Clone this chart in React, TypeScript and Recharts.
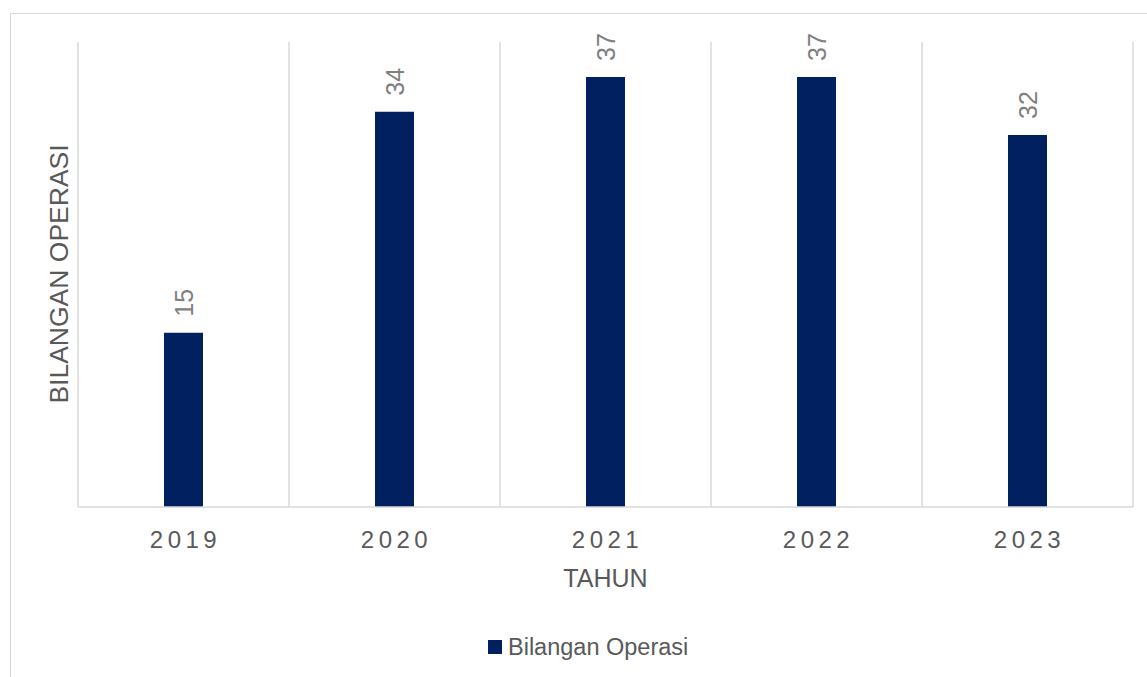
import React from 'react';
import { BarChart, Bar, XAxis, YAxis, CartesianGrid, LabelList, Label } from 'recharts';

const years = ['2019', '2020', '2021', '2022', '2023'];
const operasi = [15, 34, 37, 37, 32];
const yDomain = [0, 40];
const seriesName = 'Bilangan Operasi';
const xTitle = 'TAHUN';
const yTitle = 'BILANGAN OPERASI';

const data = years.map((y, i) => ({ year: y, value: operasi[i] }));

const FONT = '"Liberation Sans", Arial, sans-serif';
const NAVY = '#002060';
const GRID = '#d9d9d9';
const TEXT = '#595959';
const LABEL = '#808080';

const Tick = (props: any) => {
  const { x, y, payload } = props;
  return (
    <text
      x={x + 2}
      y={y + 24}
      textAnchor="middle"
      dominantBaseline="central"
      fontFamily={FONT}
      fontSize={24}
      letterSpacing={4.5}
      fill={TEXT}
    >
      {payload.value}
    </text>
  );
};

const ValueLabel = (props: any) => {
  const { x, y, width, value } = props;
  const cx = x + width / 2;
  const y0 = y - 16;
  return (
    <text
      x={cx}
      y={y0}
      transform={`rotate(-90, ${cx}, ${y0})`}
      textAnchor="start"
      dominantBaseline="central"
      fontFamily={FONT}
      fontSize={25}
      fill={LABEL}
    >
      {value}
    </text>
  );
};

export default function App() {
  return (
    <div
      style={{
        position: 'absolute',
        left: 0,
        top: 0,
        width: 1147,
        height: 677,
        overflow: 'hidden',
        background: '#fff',
      }}
    >
      <div
        style={{
          position: 'absolute',
          left: 10,
          top: 13,
          width: 1160,
          height: 700,
          border: `1px solid ${GRID}`,
          boxSizing: 'border-box',
        }}
      />
      <div style={{ position: 'absolute', left: 0, top: 0 }}>
        <BarChart
          width={1147}
          height={677}
          data={data}
          margin={{ top: 42, right: 14, bottom: 140, left: 78 }}
        >
          <CartesianGrid
            horizontal={false}
            stroke={GRID}
            strokeWidth={1.5}
            verticalCoordinatesGenerator={({ offset }: any) =>
              [0, 1, 2, 3, 4, 5].map((i) => offset.left + (i * offset.width) / 5)
            }
          />
          <XAxis
            dataKey="year"
            height={30}
            axisLine={{ stroke: GRID, strokeWidth: 1.5 }}
            tickLine={false}
            tick={<Tick />}
            interval={0}
          >
            <Label
              content={(p: any) => {
                const vb = p.viewBox;
                return (
                  <text
                    x={vb.x + vb.width / 2}
                    y={vb.y + 71}
                    textAnchor="middle"
                    dominantBaseline="central"
                    fontFamily={FONT}
                    fontSize={25}
                    fill={TEXT}
                  >
                    {xTitle}
                  </text>
                );
              }}
            />
          </XAxis>
          <YAxis domain={yDomain} hide />
          <Bar dataKey="value" name={seriesName} fill={NAVY} barSize={39} isAnimationActive={false}>
            <LabelList dataKey="value" content={<ValueLabel />} />
          </Bar>
        </BarChart>
      </div>
      <div
        style={{
          position: 'absolute',
          left: 59,
          top: 274,
          transform: 'translate(-50%, -50%) rotate(-90deg)',
          fontFamily: FONT,
          fontSize: 26.5,
          lineHeight: '30px',
          color: TEXT,
          whiteSpace: 'nowrap',
        }}
      >
        {yTitle}
      </div>
      <div
        style={{
          position: 'absolute',
          left: 488,
          top: 634,
          height: 26,
          display: 'flex',
          alignItems: 'center',
          fontFamily: FONT,
          fontSize: 23.5,
          color: TEXT,
          whiteSpace: 'nowrap',
        }}
      >
        <span style={{ display: 'inline-block', width: 14, height: 14, background: NAVY, marginRight: 6 }} />
        <span>{seriesName}</span>
      </div>
    </div>
  );
}
